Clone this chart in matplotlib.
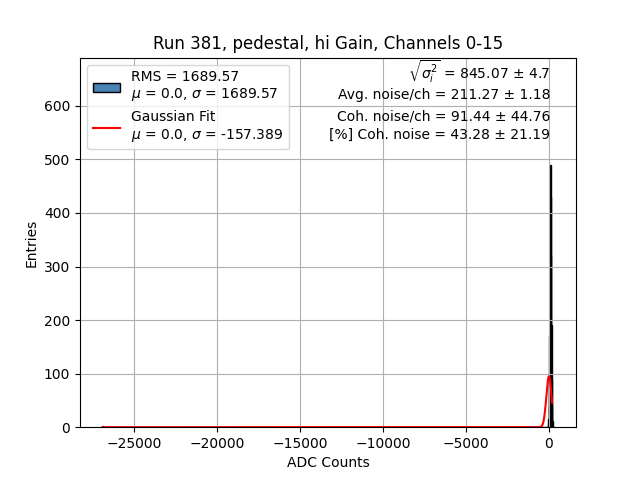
import matplotlib
matplotlib.use('Agg')
import matplotlib.pyplot as plt
import numpy as np

# histogram content (bin centres / counts of the non-empty bins, bin width 20)
bin_width = 20
bin_lo, bin_hi = -26900, 280
centers = np.array([-26890, -70, -50, -30, -10, 10, 30, 50, 70, 90, 110,
                    130, 150, 170, 190, 210, 230])
counts = np.array([3, 2, 5, 15, 40, 90, 170, 300, 420, 490, 430,
                   320, 190, 90, 40, 12, 3])

# gaussian fit parameters
fit_mu = 0.0
fit_sigma = -157.389
fit_amp = 95.0
fit_x_lo, fit_x_hi = -26890, 190

rms = 1689.57
stats_lines = [
    r'$\sqrt{\sigma_i^2}$ = 845.07 ± 4.7',
    'Avg. noise/ch = 211.27 ± 1.18',
    'Coh. noise/ch = 91.44 ± 44.76',
    '[%] Coh. noise = 43.28 ± 21.19',
]
stats_y = [0.941, 0.8875, 0.829, 0.780]

fig, ax = plt.subplots(figsize=(6.4, 4.8), dpi=100)

edges = np.arange(bin_lo, bin_hi + bin_width, bin_width)
ax.hist(centers, bins=edges, weights=counts, color='steelblue',
        edgecolor='black', linewidth=1.0,
        label=f'RMS = {rms}\n$\\mu$ = 0.0, $\\sigma$ = {rms}')

xf = np.linspace(fit_x_lo, fit_x_hi, 4000)
yf = fit_amp * np.exp(-0.5 * ((xf - fit_mu) / fit_sigma) ** 2)
ax.plot(xf, yf, color='red',
        label=f'Gaussian Fit\n$\\mu$ = {fit_mu}, $\\sigma$ = {fit_sigma}')

for line, y in zip(stats_lines, stats_y):
    ax.text(0.948, y, line, transform=ax.transAxes,
            ha='right', va='baseline', fontsize=10)

ax.set_xlim(-28250, 1630)
ax.set_ylim(0, 690)
ax.set_title('Run 381, pedestal, hi Gain, Channels 0-15')
ax.set_xlabel('ADC Counts')
ax.set_ylabel('Entries')
ax.grid(True)
ax.legend(loc='upper left')

plt.savefig('out.png', dpi=100)
plt.close()
